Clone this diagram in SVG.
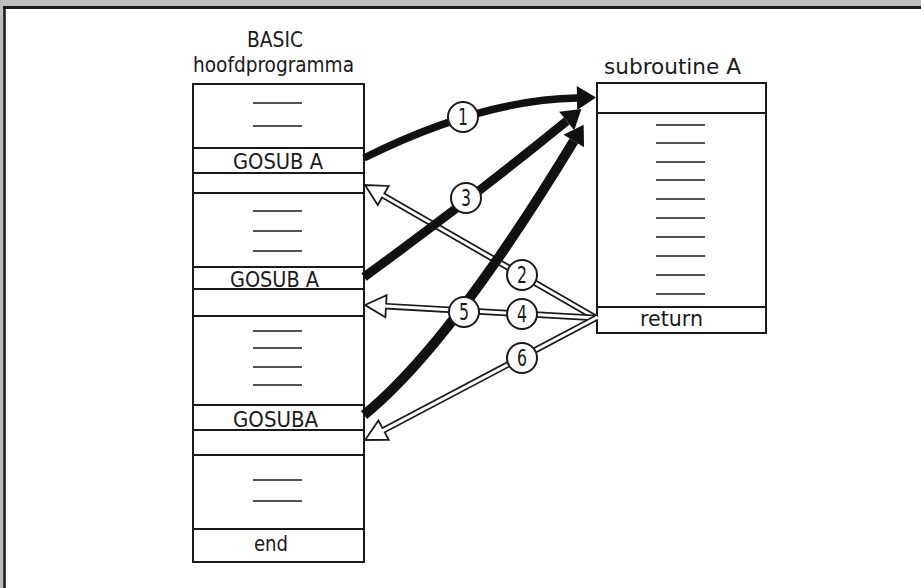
<svg xmlns="http://www.w3.org/2000/svg" width="921" height="588" viewBox="0 0 921 588">
  <style>
    .t { font-family: "DejaVu Sans Condensed", "DejaVu Sans", "Liberation Sans Narrow", sans-serif; font-stretch: condensed; font-size: 21.5px; fill: #1a1a1a; }
    .lbl { font-size: 22px; }
    .box { fill: #ffffff; stroke: #1a1a1a; stroke-width: 2; }
    .rule { stroke: #1a1a1a; stroke-width: 2; fill: none; }
    .dash { stroke: #1a1a1a; stroke-width: 1.6; }
    .call { fill: none; stroke: #111; }
    .ret-out { fill: none; stroke: #1a1a1a; stroke-width: 6.5; }
    .ret-in { fill: none; stroke: #ffffff; stroke-width: 3; stroke-linecap: square; }
    .num { fill: #ffffff; stroke: #1a1a1a; stroke-width: 2; }
    .n { text-anchor: middle; font-size: 23px; }
  </style>
  <defs>
    <marker id="solidHead" markerUnits="userSpaceOnUse" markerWidth="24" markerHeight="26" refX="0" refY="0" viewBox="0 -13 24 26" orient="auto" overflow="visible">
      <polygon points="0,-12 19,0 0,12" fill="#111"/>
    </marker>
    <marker id="openHead" markerUnits="userSpaceOnUse" markerWidth="26" markerHeight="26" refX="0" refY="0" viewBox="0 -13 26 26" orient="auto" overflow="visible">
      <polygon points="0,-11 21,0 0,11" fill="#ffffff" stroke="#1a1a1a" stroke-width="1.8" stroke-linejoin="miter"/>
    </marker>
  </defs>

  <!-- page background and frame -->
  <rect x="0" y="0" width="921" height="588" fill="#bdbdbd"/>
  <rect x="5" y="8" width="916" height="580" fill="#ffffff"/>
  <line x1="3" y1="7.5" x2="921" y2="7.5" stroke="#1a1a1a" stroke-width="3"/>
  <line x1="4.5" y1="6" x2="4.5" y2="588" stroke="#1a1a1a" stroke-width="2.5"/>

  <!-- main program -->
  <g id="main-program">
    <text class="t lbl" x="275" y="47" text-anchor="middle" textLength="56" lengthAdjust="spacingAndGlyphs">BASIC</text>
    <text class="t lbl" x="193" y="72" textLength="161" lengthAdjust="spacingAndGlyphs">hoofdprogramma</text>
    <rect class="box" x="193" y="84" width="171" height="478"/>
    <path class="rule" d="M193 148H364M193 173H364M193 193H364M193 267H364M193 289H364M193 316H364M193 405H364M193 430H364M193 455H364M193 529H364"/>
    <path class="dash" d="M253 103H302M253 126H302M253 211H302M253 231H302M253 251H302M253 331H302M253 348H302M253 367H302M253 385H302M253 480H302M253 501H302"/>
    <text class="t" x="233" y="169" textLength="90" lengthAdjust="spacingAndGlyphs">GOSUB A</text>
    <text class="t" x="230" y="287" textLength="89" lengthAdjust="spacingAndGlyphs">GOSUB A</text>
    <text class="t" x="233" y="427" textLength="85" lengthAdjust="spacingAndGlyphs">GOSUBA</text>
    <text class="t lbl" x="254" y="551" textLength="34" lengthAdjust="spacingAndGlyphs">end</text>
  </g>

  <!-- subroutine -->
  <g id="subroutine-a">
    <text class="t lbl" x="604" y="74" textLength="137" lengthAdjust="spacingAndGlyphs">subroutine A</text>
    <rect class="box" x="597" y="83" width="169" height="250"/>
    <path class="rule" d="M597 113H766M597 307H766"/>
    <path class="dash" d="M656 125H705M656 143H705M656 162H705M656 180H705M656 199H705M656 218H705M656 237H705M656 256H705M656 275H705M656 294H705"/>
    <text class="t lbl" x="640" y="326" textLength="63" lengthAdjust="spacingAndGlyphs">return</text>
  </g>

  <!-- connectors -->
  <g id="connectors">
    <!-- returns: hollow double-line arrows -->
    <path class="ret-out" d="M596 318L383.2 195.5" marker-end="url(#openHead)"/>
    <path class="ret-in" d="M596 318L383.2 195.5"/>
    <path class="ret-out" d="M596 318L386 306.2" marker-end="url(#openHead)"/>
    <path class="ret-in" d="M596 318L386 306.2"/>
    <path class="ret-out" d="M596 318L383.6 430.2" marker-end="url(#openHead)"/>
    <path class="ret-in" d="M596 318L383.6 430.2"/>

    <!-- calls: solid black arrows -->
    <path class="call" stroke-width="7.5" d="M364 158Q480 100 577 98" marker-end="url(#solidHead)"/>
    <path class="call" stroke-width="9" d="M364 277Q470 200 566.7 121" marker-end="url(#solidHead)"/>
    <path class="call" stroke-width="10" d="M364 415Q450 345 573.8 141" marker-end="url(#solidHead)"/>

    <!-- step numbers -->
    <g id="step-1"><circle class="num" cx="463" cy="117" r="15"/><text class="t n" x="463" y="125" textLength="10" lengthAdjust="spacingAndGlyphs">1</text></g>
    <g id="step-2"><circle class="num" cx="522" cy="275" r="15"/><text class="t n" x="522" y="283" textLength="10" lengthAdjust="spacingAndGlyphs">2</text></g>
    <g id="step-3"><circle class="num" cx="466" cy="198" r="15"/><text class="t n" x="466" y="206" textLength="10" lengthAdjust="spacingAndGlyphs">3</text></g>
    <g id="step-4"><circle class="num" cx="522" cy="314" r="15"/><text class="t n" x="522" y="322" textLength="10" lengthAdjust="spacingAndGlyphs">4</text></g>
    <g id="step-5"><circle class="num" cx="464" cy="312" r="15"/><text class="t n" x="464" y="320" textLength="10" lengthAdjust="spacingAndGlyphs">5</text></g>
    <g id="step-6"><circle class="num" cx="522" cy="358" r="15"/><text class="t n" x="522" y="366" textLength="10" lengthAdjust="spacingAndGlyphs">6</text></g>
  </g>
</svg>
